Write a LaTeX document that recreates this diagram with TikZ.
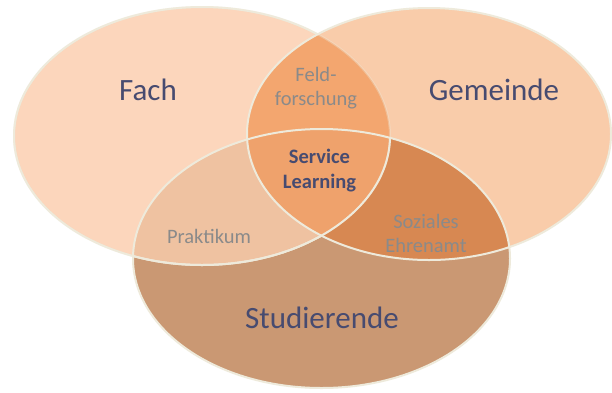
\documentclass[tikz,border=0pt]{standalone}
\usepackage{fontspec}
\setmainfont{Carlito}

\definecolor{fachfill}{HTML}{FCD6BC}
\definecolor{gemeindefill}{HTML}{F9CCAA}
\definecolor{studfill}{HTML}{CA9873}
\definecolor{fachgem}{HTML}{F3A66F}
\definecolor{fachstud}{HTML}{EFC2A1}
\definecolor{gemstud}{HTML}{D78852}
\definecolor{allthree}{HTML}{EFA26C}
\definecolor{rimcolor}{HTML}{EEEADB}
\definecolor{titletext}{HTML}{474B70}
\definecolor{labeltext}{HTML}{8A8A8A}

\begin{document}
\begin{tikzpicture}[x=1pt, y=-1pt]
    \newcommand\fachshape{(202,136) ellipse [x radius=188pt, y radius=129pt]}
\newcommand\gemeindeshape{(429,134) ellipse [x radius=182pt, y radius=126pt]}
\newcommand\studshape{(321.5,258.5) ellipse [x radius=188.5pt, y radius=129.5pt]}

\tikzset{
    rim/.style={draw=rimcolor, line width=2pt},
    big label/.style={text=titletext, font=\fontsize{31}{34}\selectfont},
    small label/.style={text=labeltext, font=\fontsize{20.5}{24}\selectfont, align=center},
    core label/.style={text=titletext, font=\bfseries\fontsize{20.5}{25}\selectfont, align=center},
}

    \fill[white] (0,0) rectangle (612,392);
    \useasboundingbox (0,0) rectangle (612,392);

    % single sets
    \fill[fachfill] \fachshape;
    \fill[gemeindefill] \gemeindeshape;
    \fill[studfill] \studshape;

    % pairwise overlaps
    \begin{scope}
        \clip \fachshape;
        \fill[fachgem] \gemeindeshape;
        \fill[fachstud] \studshape;
    \end{scope}
    \begin{scope}
        \clip \gemeindeshape;
        \fill[gemstud] \studshape;
    \end{scope}
    \begin{scope}
        \clip \fachshape;
        \clip \gemeindeshape;
        \fill[allthree] \studshape;
    \end{scope}

    % outlines
    \draw[rim, draw opacity=.35] \fachshape;
    \begin{scope}[even odd rule]
        \clip (-10,-10) rectangle (622,402) \gemeindeshape;
        \draw[rim] \fachshape;
    \end{scope}
    \begin{scope}
        \clip \studshape;
        \draw[rim] \fachshape;
    \end{scope}
    \draw[rim] \gemeindeshape;
    \draw[rim] \studshape;

    % labels
    \node[big label] (fach) at (148,90) {Fach};
    \node[big label] (gemeinde) at (494,90) {Gemeinde};
    \node[big label] (studierende) at (322,318) {Studierende};

    \node[small label] (feld) at (316,88) {Feld-\\forschung};
    \node[small label] (praktikum) at (209,236) {Praktikum};
    \node[small label] (ehrenamt) at (426,233) {Soziales\\Ehrenamt};
    \node[core label] (service) at (319.5,171) {Service\\Learning};
\end{tikzpicture}
\end{document}
